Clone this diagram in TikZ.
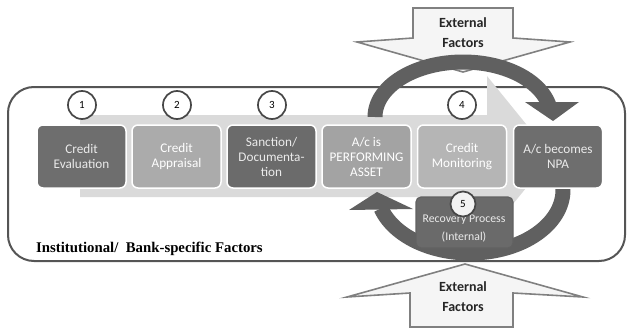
\documentclass[tikz,border=0pt]{standalone}
\usepackage{fontspec}
\setmainfont{Carlito}
\newfontfamily\serifb{Liberation Serif}
\definecolor{arcgray}{HTML}{606060}
\definecolor{bandgray}{HTML}{DADADA}
\definecolor{darkbox}{HTML}{6E6E6E}
\definecolor{lightbox}{HTML}{ABABAB}
\definecolor{midbox}{HTML}{A3A3A3}
\definecolor{palebox}{HTML}{B5B5B5}
\definecolor{framegray}{HTML}{555555}
\begin{document}
\begin{tikzpicture}[x=1pt,y=-1pt,
  stepbox/.style={rectangle, rounded corners=6pt, minimum width=89pt, minimum height=63pt,
    draw=white, line width=1.5pt, text=white, align=center,
    font=\fontsize{13.2}{15}\selectfont, inner sep=1pt},
  numcirc/.style={circle, draw=black!72, line width=1.7pt, fill=white, minimum size=28pt,
    inner sep=0pt, font=\fontsize{11}{12}\selectfont},
  extarrow/.style={draw=black!50, line width=1.6pt, fill=black!4},
  exttext/.style={font=\bfseries\fontsize{14}{20}\selectfont, align=center, text=black!85},
  arcstroke/.style={draw=arcgray, line width=15pt},
  archead/.style={fill=arcgray}
]
\useasboundingbox (0,0) rectangle (629,329);

% outer frame
\draw[line width=2pt, draw=framegray, fill=white, rounded corners=26pt] (8,87) rectangle (625,261);

% background process arrow
\fill[bandgray] (80,115) -- (487,115) -- (487,76) -- (552,156) -- (487,236) -- (487,197) -- (80,197) -- cycle;

% external factor block arrows
\draw[extarrow] (413,8) -- (513,8) -- (513,38) -- (570,42) -- (463,72) -- (357,42) -- (413,38) -- cycle;
\node[exttext] (extTop) at (463,33) {External\\Factors};
\draw[extarrow] (465,264) -- (583,297) -- (513,293) -- (513,327) -- (410,327) -- (410,293) -- (347,297) -- cycle;
\node[exttext] (extBot) at (463,297) {External\\Factors};

% named ends of the curved arrows
\coordinate (topS) at (375,117);
\coordinate (topE) at (553,121);
\coordinate (botS) at (562,181);
\coordinate (botE) at (377,192);

% bottom curved arrow (recovery)
\draw[arcstroke] plot[domain=-8:163, samples=80, smooth] ({470+93*cos(\x)},{190+63*sin(\x)});
\fill[archead] (349,210) -- (413,209) -- (botE) -- cycle;

% top curved arrow (external)
\draw[arcstroke] plot[domain=180:350, samples=80, smooth] ({463+88*cos(\x)},{117+55*sin(\x)});
\fill[archead] (525,102) -- (579,102) -- (topE) -- cycle;

% process boxes
\node[stepbox, fill=darkbox, text=white!92!black] (b1) at (81.5,156.5) {Credit\\Evaluation};
\node[stepbox, fill=lightbox] (b2) at (176.5,156.5) {Credit\\Appraisal};
\node[stepbox, fill=darkbox!97!black, text=white!92!black] (b3) at (271.5,156.5) {Sanction/\\Documenta-\\tion};
\node[stepbox, fill=midbox] (b4) at (366.5,156.5) {A/c is\\PERFORMING\\ASSET};
\node[stepbox, fill=palebox] (b5) at (462,156.5) {Credit\\Monitoring};
\node[stepbox, fill=darkbox, text=white!92!black] (b6) at (558,156.5) {A/c becomes\\NPA};

% recovery box
\node[rectangle, rounded corners=5pt, minimum width=97pt, minimum height=51pt,
  draw=black!62, line width=1.2pt, fill=darkbox!96!black] (rec) at (464.5,222.5) {};
\node[align=center, text=white!92!black, font=\fontsize{11.8}{18}\selectfont] (rectext) at (464,229) {Recovery Process\\(Internal)};

% numbered circles
\node[numcirc] (c1) at (82,105) {1};
\node[numcirc] (c2) at (177,105) {2};
\node[numcirc] (c3) at (272,105) {3};
\node[numcirc] (c4) at (462,105) {4};
\node[numcirc, minimum size=25pt, fill=white!95!black] (c5) at (463,204) {5};

% caption
\node[anchor=west, inner sep=0pt, font=\serifb\bfseries\fontsize{14.8}{17}\selectfont] (inst) at (36,249) {Institutional/\ \ Bank-specific Factors};
\end{tikzpicture}
\end{document}
